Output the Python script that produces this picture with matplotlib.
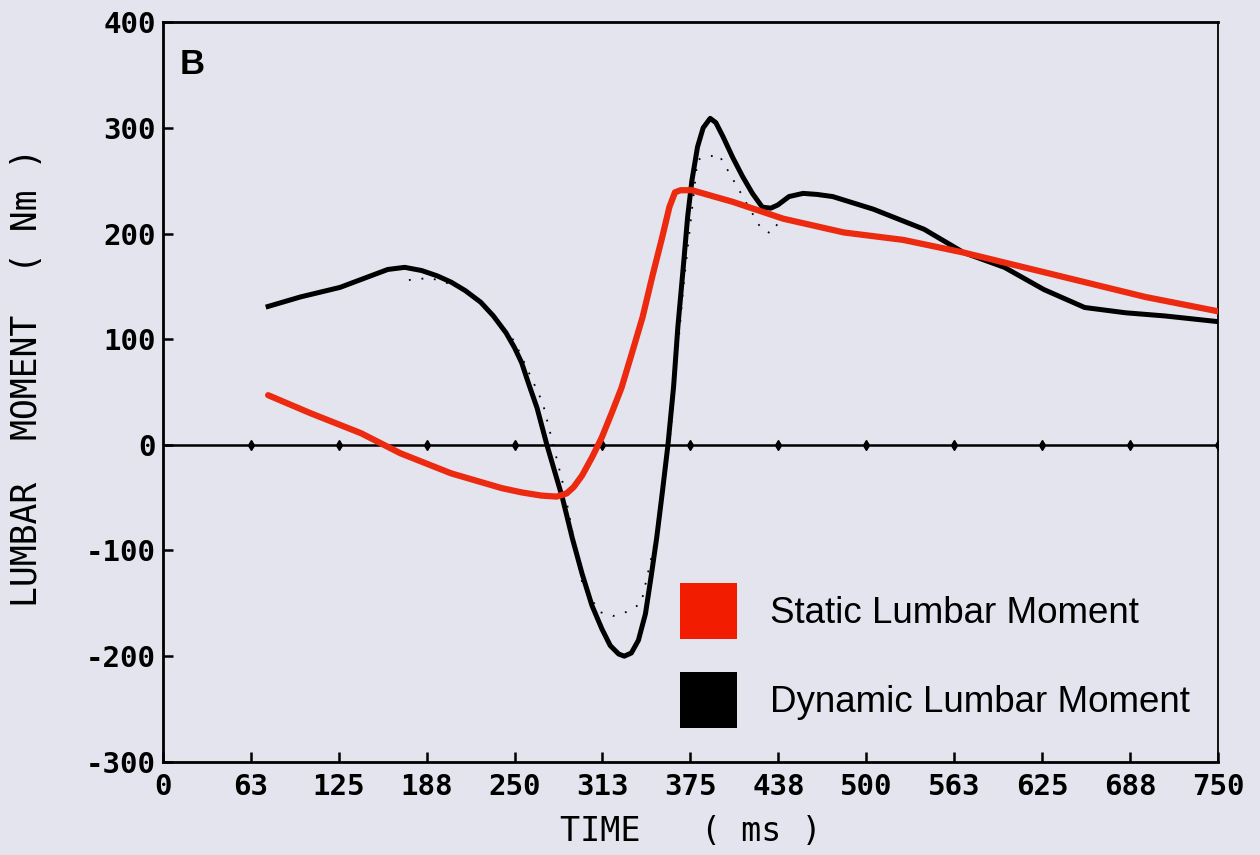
import matplotlib.pyplot as plt
from matplotlib.patches import Patch

# time (ms) and lumbar moment (Nm)
t_dyn = [75, 98, 126, 148, 160, 172, 184, 195, 205, 215, 226, 235, 244, 250, 255, 260,
         266, 273, 284, 291, 298, 305, 312, 318, 324, 328, 333, 338, 343, 347, 351, 355,
         359, 363, 366, 370, 373, 376, 380, 384, 389, 393, 398, 405, 412, 419, 426, 432,
         437, 445, 455, 465, 476, 505, 541, 569, 598, 626, 655, 684, 712, 754]
m_dyn = [131, 140, 149, 160, 166, 168, 165, 160, 154, 146, 135, 122, 106, 92, 78, 58,
         35, 0, -50, -88, -122, -152, -174, -190, -198, -200, -197, -185, -160, -125, -88, -45,
         0, 55, 111, 170, 216, 250, 282, 300, 309, 305, 292, 272, 254, 238, 225, 224,
         227, 235, 238, 237, 235, 223, 204, 182, 168, 147, 130, 125, 122, 116]

t_dot = [175, 190, 210, 230, 250, 270, 285, 298, 310, 320, 330, 340, 350, 360, 370, 380,
         395, 410, 425, 432, 440]
m_dot = [156, 158, 150, 130, 98, 40, -40, -130, -158, -162, -158, -150, -90, 0, 150, 270,
         275, 240, 205, 200, 215]

t_stat = [75, 105, 141, 169, 205, 241, 255, 269, 280, 287, 292, 298, 305, 312, 319, 326,
          333, 341, 348, 355, 360, 364, 368, 376, 405, 441, 484, 526, 569, 612, 655, 698, 755]
m_stat = [47, 30, 11, -8, -27, -41, -45, -48, -49, -46, -40, -29, -12, 7, 30, 54,
          85, 121, 160, 197, 225, 239, 241, 241, 230, 214, 201, 194, 182, 168, 154, 140, 125]

x_ticks = [0, 62.5, 125, 187.5, 250, 312.5, 375, 437.5, 500, 562.5, 625, 687.5, 750]
x_labels = ['0', '63', '125', '188', '250', '313', '375', '438', '500', '563', '625', '688', '750']
y_ticks = [-300, -200, -100, 0, 100, 200, 300, 400]

bg = '#e4e4ee'
mono = 'DejaVu Sans Mono'

fig = plt.figure(figsize=(12.6, 8.55), dpi=100, facecolor=bg)
ax = fig.add_axes([0.129, 0.109, 0.838, 0.865], facecolor=bg)

ax.axhline(0, color='black', lw=1.8, zorder=1)
ax.plot(x_ticks[1:], [0] * 12, ls='none', marker='d', ms=5, color='black', zorder=1)

ax.plot(t_dot, m_dot, color='black', lw=1.3, ls=(0, (1, 6)), zorder=2)
ax.plot(t_dyn, m_dyn, color='black', lw=3.6, zorder=3, solid_joinstyle='round')
ax.plot(t_stat, m_stat, color='#ec2a10', lw=4.5, zorder=4, solid_capstyle='round',
        solid_joinstyle='round')

ax.set_xlim(0, 750)
ax.set_ylim(-300, 400)
ax.set_xticks(x_ticks)
ax.set_xticklabels(x_labels, family=mono, fontsize=21, fontweight='bold')
ax.set_yticks(y_ticks)
ax.set_yticklabels([str(v) for v in y_ticks], family=mono, fontsize=21, fontweight='bold')
ax.tick_params(axis='both', direction='in', length=7, width=1.8, color='black')
ax.tick_params(axis='x', pad=8)
ax.tick_params(axis='y', pad=5)
for s in ax.spines.values():
    s.set_linewidth(2)
    s.set_color('black')
ax.spines['right'].set_linewidth(1.3)

ax.set_ylabel('LUMBAR  MOMENT  ( Nm )', family=mono, fontsize=25)
ax.yaxis.set_label_coords(-0.112, 0.52)
ax.set_xlabel('TIME   ( ms )', family=mono, fontsize=24, labelpad=10)

ax.text(0.016, 0.965, 'B', transform=ax.transAxes, fontsize=25, fontweight='bold',
        family='Liberation Sans', va='top', ha='left')

handles = [Patch(facecolor='#f21d00', edgecolor='none'), Patch(facecolor='black', edgecolor='none')]
ax.legend(handles, ['Static Lumbar Moment', 'Dynamic Lumbar Moment'],
          loc='upper left', bbox_to_anchor=(0.49, 0.242), frameon=False,
          prop={'family': 'Liberation Sans', 'size': 26.5},
          handlelength=1.55, handleheight=1.97, handletextpad=0.9,
          labelspacing=0.9, borderpad=0, borderaxespad=0)

fig.savefig('out.png', dpi=100, facecolor=bg)
